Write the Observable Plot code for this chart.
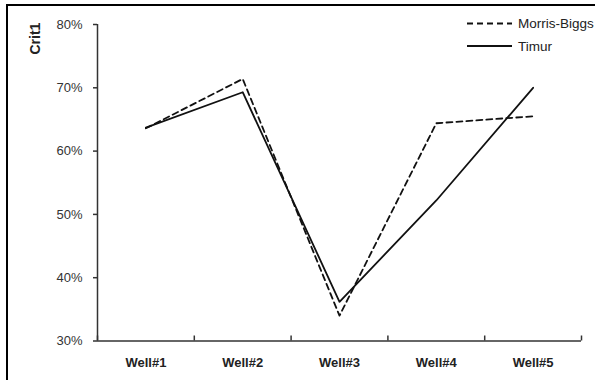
<!DOCTYPE html>
<html>
<head>
<meta charset="utf-8">
<script src="https://cdn.jsdelivr.net/npm/d3@7"></script>
<script src="https://cdn.jsdelivr.net/npm/@observablehq/plot@0.6"></script>
<style>
  html, body { margin: 0; padding: 0; background: #fff; }
  #wrap { position: relative; width: 595px; height: 380px; overflow: hidden; font-family: "Liberation Sans", Arial, sans-serif; }
  #frame { position: absolute; left: 6px; top: 4px; width: 620px; height: 400px; border-left: 2px solid #000; border-top: 2px solid #000; pointer-events: none; }
  #legend { position: absolute; left: 0; top: 0; }
</style>
</head>
<body>
<div id="wrap"></div>
<script>
const wells = ["Well#1", "Well#2", "Well#3", "Well#4", "Well#5"];
const morrisBiggs = [0.636, 0.714, 0.340, 0.644, 0.655];
const timur = [0.637, 0.693, 0.362, 0.522, 0.700];
const seriesNames = ["Morris-Biggs", "Timur"];
const yTicks = [0.3, 0.4, 0.5, 0.6, 0.7, 0.8];

const pos = wells.map((w, i) => i + 1);
const boundaries = d3.range(0.5, wells.length + 1, 1);
const rows = [
  ...wells.map((w, i) => ({series: seriesNames[0], x: pos[i], v: morrisBiggs[i]})),
  ...wells.map((w, i) => ({series: seriesNames[1], x: pos[i], v: timur[i]}))
];

const H = 380, MT = 24, MB = 39.5, tickLen = 5;

const chart = Plot.plot({
  width: 595,
  height: H,
  marginLeft: 97,
  marginRight: 14,
  marginTop: MT,
  marginBottom: MB,
  style: {fontFamily: "'Liberation Sans', Arial, sans-serif", background: "transparent", overflow: "visible"},
  x: {type: "linear", domain: [0.5, wells.length + 0.5]},
  y: {domain: [0.3, 0.8]},
  marks: [
    Plot.axisY({ticks: yTicks, tickFormat: d3.format(".0%"), tickSize: 4, tickPadding: 11, fontSize: 13, label: null, color: "#333", stroke: "#333", strokeWidth: 1.5}),
    Plot.axisX({ticks: pos, tickFormat: d => wells[d - 1], tickSize: 0, tickPadding: 17, fontSize: 13, fontWeight: "bold", label: null, color: "#222"}),
    Plot.ruleX(boundaries, {x: d => d, insetTop: H - MT - MB - tickLen, stroke: "#333", strokeWidth: 1.5}),
    Plot.ruleX([0.5], {stroke: "#333", strokeWidth: 1.5}),
    Plot.ruleY([0.3], {stroke: "#333", strokeWidth: 1.5}),
    Plot.line(rows.filter(d => d.series === seriesNames[0]), {x: "x", y: "v", stroke: "#111", strokeWidth: 1.8, strokeDasharray: "6,4"}),
    Plot.line(rows.filter(d => d.series === seriesNames[1]), {x: "x", y: "v", stroke: "#111", strokeWidth: 1.8}),
    Plot.text(["Crit1"], {frameAnchor: "top-left", dx: -67, dy: 30, rotate: -90, fontSize: 14, fontWeight: "bold", fill: "#222"})
  ]
});

const wrap = document.getElementById("wrap");
wrap.appendChild(chart);

// legend
const ns = "http://www.w3.org/2000/svg";
const leg = document.createElementNS(ns, "svg");
leg.setAttribute("id", "legend");
leg.setAttribute("width", 595);
leg.setAttribute("height", 70);
const items = [
  {name: seriesNames[0], dash: "6,4", y: 23.5},
  {name: seriesNames[1], dash: null, y: 46}
];
for (const it of items) {
  const l = document.createElementNS(ns, "line");
  l.setAttribute("x1", 467); l.setAttribute("x2", 512);
  l.setAttribute("y1", it.y); l.setAttribute("y2", it.y);
  l.setAttribute("stroke", "#111"); l.setAttribute("stroke-width", 1.8);
  if (it.dash) l.setAttribute("stroke-dasharray", it.dash);
  leg.appendChild(l);
  const t = document.createElementNS(ns, "text");
  t.setAttribute("x", 518); t.setAttribute("y", it.y + 4.7);
  t.setAttribute("font-size", 13.5);
  t.setAttribute("font-family", "'Liberation Sans', Arial, sans-serif");
  t.setAttribute("fill", "#222");
  t.textContent = it.name;
  leg.appendChild(t);
}
wrap.appendChild(leg);

const frame = document.createElement("div");
frame.id = "frame";
wrap.appendChild(frame);
</script>
</body>
</html>
